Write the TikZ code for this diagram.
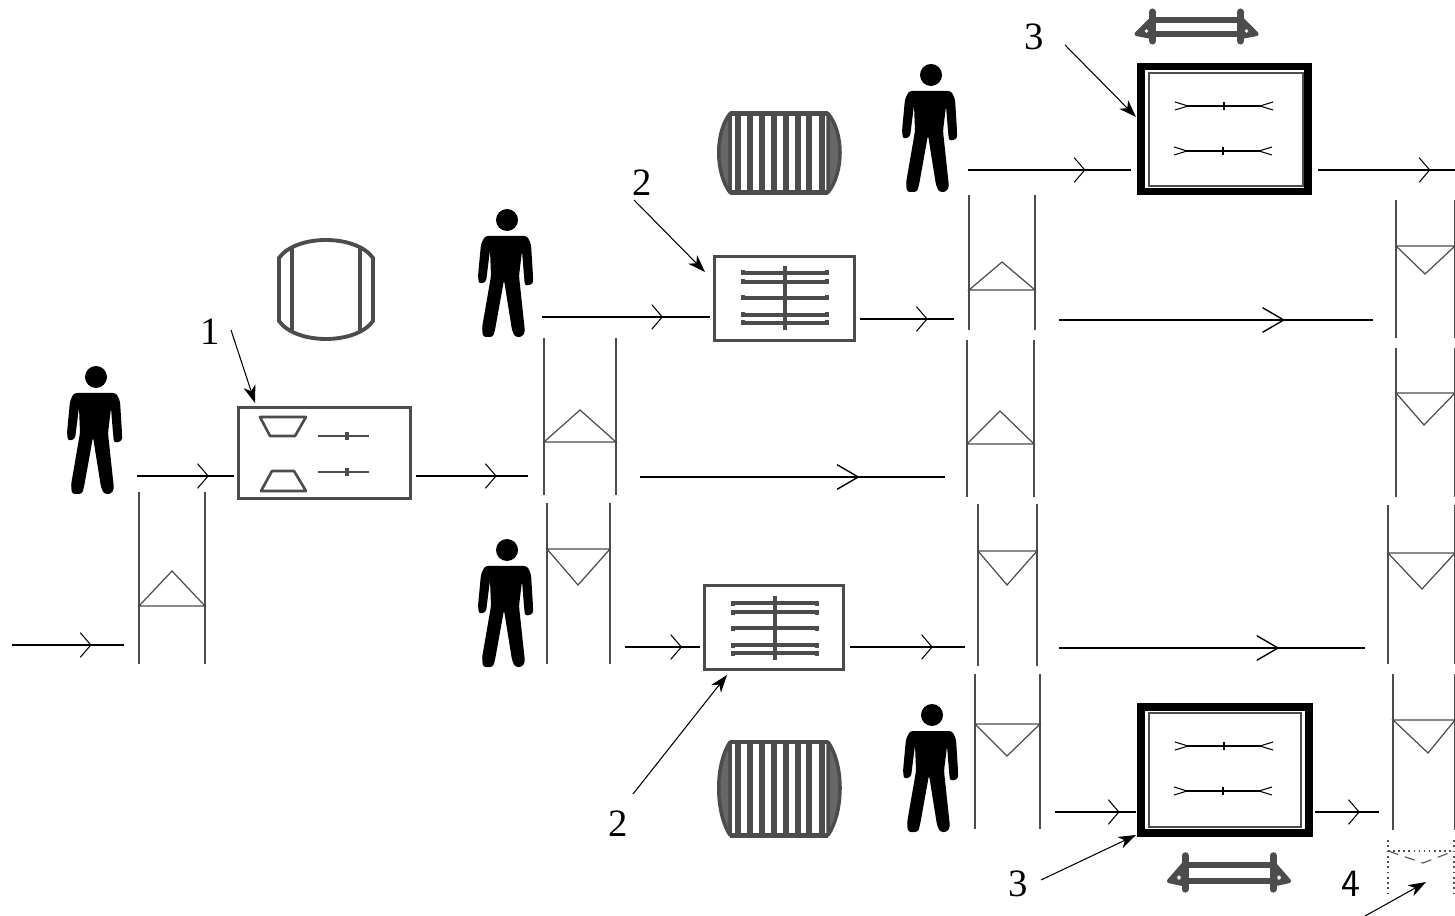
\documentclass[tikz,border=0pt]{standalone}
\usepackage{fontspec}
\usepackage{xcolor}
\usepackage{tikz}
\usetikzlibrary{arrows.meta,decorations.markings}
\setmainfont{Liberation Serif}
\definecolor{inkgray}{gray}{0.3}
\definecolor{thingray}{gray}{0.3}
\tikzset{
    flowline/.style={black, line width=0.5pt, postaction={decorate},
        decoration={markings, mark=at position #1 with {\arrow[line width=0.3pt]{Straight Barb[length=3pt,width=7pt]}}}},
    heavyflow/.style={flowline=#1, line width=0.65pt},
    longflow/.style={black, line width=0.65pt, postaction={decorate},
        decoration={markings, mark=at position #1 with {\arrow[line width=0.4pt]{Straight Barb[length=6pt,width=7pt]}}}},
    machine/.style={draw=inkgray, line width=0.85pt, fill=white, outer sep=1.4pt, inner sep=0pt},
    press/.style={draw=black, line width=2.1pt, fill=white, inner sep=0pt},
    pointer/.style={black, line width=0.3pt, -{Stealth[length=5pt,width=3.5pt,inset=1.5pt]}},
    rod/.style={inkgray, line width=1pt},
    numlabel/.style={font=\fontsize{11}{11}\selectfont, inner sep=0pt},
    pics/person/.style={code={
        \fill[black] (0,0) circle (11);
        \fill[black, rounded corners=0.8pt] (-22,16) -- (20,16) -- (24,24) -- (26,56) -- (26,64) -- (18,66) -- (17,56) -- (15,31)
            -- (12,56) -- (18,112) -- (15,117) -- (8,117) -- (5,110) -- (-3,60) -- (-12,110) -- (-14,117) -- (-24,117) -- (-25,108)
            -- (-16,56) -- (-17,30) -- (-21,62) -- (-28,64) -- (-29,56) -- (-26,24) -- cycle;
    }},
    pics/drum/.style={code={
        \draw[inkgray, line width=1.1pt] (-47,-32) .. controls (-30,-56) and (30,-56) .. (47,-32) -- (47,31)
            .. controls (30,55) and (-30,55) .. (-47,31) -- cycle;
        \draw[inkgray, line width=1.1pt] (-34,-42) -- (-34,40);
        \draw[inkgray, line width=1.1pt] (34,-42) -- (34,40);
    }},
    pics/roller/.style={code={
        \filldraw[inkgray, line width=1pt, line join=round, fill=inkgray!85!white] (-50,-39) .. controls (-65,-20) and (-65,20) .. (-50,40) -- cycle;
        \filldraw[inkgray, line width=1pt, line join=round, fill=inkgray!85!white] (48,-39) .. controls (64,-20) and (64,20) .. (48,40) -- cycle;
        \draw[inkgray, line width=1.4pt] (-50,-39) -- (48,-39);
        \draw[inkgray, line width=1.4pt] (-50,40) -- (48,40);
        \foreach \sx in {-42,-30,-18,-6,6,18,29,42}
            \draw[inkgray, line width=1.7pt] (\sx,-39) -- (\sx,40);
    }},
    pics/rail/.style={code={
        \draw[inkgray, line width=1.6pt] (-44,-7) -- (44,-7);
        \draw[inkgray, line width=1.6pt] (-44,7) -- (44,7);
        \draw[inkgray, line width=2pt, line cap=round] (-44,-15) -- (-44,14);
        \draw[inkgray, line width=2pt, line cap=round] (44,-15) -- (44,14);
        \filldraw[inkgray, line width=1.2pt, line join=round] (-60,7) -- (-44,-9) -- (-44,10) -- cycle;
        \filldraw[inkgray, line width=1.2pt, line join=round] (60,7) -- (44,-9) -- (44,10) -- cycle;
        \fill[white] (-50,4) circle (1.8);
        \fill[white] (50,4) circle (1.8);
    }},
    pics/fivebars/.style={code={
        \foreach \by in {-25,-16,0,17,25} {
            \draw[rod] (-44,\by) -- (44,\by);
            \fill[inkgray] (-44,\by-2.5) rectangle (-40,\by+2.5);
            \fill[inkgray] (40,\by-2.5) rectangle (44,\by+2.5);
        }
        \draw[inkgray, line width=1.1pt] (0,-32) -- (0,32);
    }},
    pics/forkbar/.style={code={
        \draw[black, line width=0.45pt] (-37,0) -- (37,0);
        \draw[black, line width=0.3pt] (-49,-4) -- (-36,0) -- (-49,4);
        \draw[black, line width=0.3pt] (49,-4) -- (36,0) -- (49,4);
        \draw[black, line width=0.5pt] (0,-4) -- (0,4);
    }},
}
\begin{document}
\begin{tikzpicture}[x=0.01cm, y=-0.01cm]
    \useasboundingbox (0,0) rectangle (1455,916);

    \foreach \pname/\px/\py in {one/96/377, two/507/220, three/507/550, four/931/75, five/932/715}
        \pic (person\pname) at (\px,\py) {person};

    \foreach \xa/\xb/\xm/\ya/\yb/\yc/\yd in {
        139/205/172/492/664/606/571,
        544/616/580/338/495/442/410,
        969/1035/1002/195/330/290/262,
        967/1034/1000/340/497/444/411,
        547/610/578/503/664/549/585,
        978/1037/1007/504/666/551/585,
        975/1040/1007/674/829/724/756,
        1396/1455/1425/200/338/246/274,
        1396/1455/1424/348/497/393/425,
        1388/1455/1422/505/664/553/589,
        1393/1455/1428/674/830/720/753} {
        \draw[thingray, line width=0.35pt] (\xa,\ya) -- (\xa,\yb);
        \draw[thingray, line width=0.35pt] (\xb,\ya) -- (\xb,\yb);
        \draw[thingray, line width=0.35pt] (\xa,\yc) -- (\xb,\yc) -- (\xm,\yd) -- cycle;
    }
    \draw[thingray, line width=0.5pt, densely dotted] (1388,840) -- (1388,893);
    \draw[thingray, line width=0.5pt, densely dotted] (1454,840) -- (1454,893);
    \draw[thingray, line width=0.45pt, densely dotted] (1388,851) -- (1454,851);
    \draw[thingray, line width=0.3pt, densely dashed] (1388,851) -- (1423,863) -- (1454,851);

    \node[machine, minimum width=1.71cm, minimum height=0.90cm] (boxone) at (324.5,453) {};
    \node[machine, minimum width=1.39cm, minimum height=0.83cm] (boxtwo) at (784.5,298.5) {};
    \node[machine, minimum width=1.38cm, minimum height=0.83cm] (boxthree) at (774,627.5) {};
    \node[press, outer sep=2.8pt, minimum width=1.67cm, minimum height=1.25cm] (boxfour) at (1224.5,129) {};
    \node[press, outer sep=1.5pt, minimum width=1.68cm, minimum height=1.26cm] (boxfive) at (1225,770) {};

    \draw[inkgray, line width=0.75pt, line join=round] (260,417) -- (306,417) -- (295,436) -- (270,436) -- cycle;
    \draw[inkgray, line width=0.75pt, line join=round] (261,491) -- (306,491) -- (294,471) -- (272,471) -- cycle;
    \foreach \by in {436,472} {
        \draw[inkgray, line width=0.7pt] (318,\by) -- (369,\by);
        \draw[inkgray, line width=1pt] (347,\by-4) -- (347,\by+4);
    }
    \pic at (785,298) {fivebars};
    \pic at (775,628) {fivebars};
    \draw[thingray, line width=0.45pt] (1149,73) rectangle (1303,186);
    \draw[thingray, line width=0.45pt] (1149,713) rectangle (1301,827);
    \pic at (1224,106) {forkbar};
    \pic at (1223,151) {forkbar};
    \pic at (1224,746) {forkbar};
    \pic at (1223,791) {forkbar};

    \pic at (326,290) {drum};
    \pic at (780,152.5) {roller};
    \pic[yscale=1.18] at (780,788) {roller};
    \pic at (1196.5,27) {rail};
    \pic[yscale=1.15] at (1229,873) {rail};

    \foreach \fname/\xa/\xb/\yy/\fpos in {
        a/12/124/645/.71,
        b/416/528/476/.72,
        c/860/954/319/.72,
        d/850/965/647/.72}
        {
        \coordinate (\fname start) at (\xa,\yy);
        \coordinate (\fname end) at (\xb,\yy);
        \draw[flowline=\fpos] (\fname start) -- (\fname end);
    }
    \foreach \fname/\xa/\xb/\yy/\fpos in {
        e/640/945/477/.72,
        f/1059/1373/320/.72,
        g/1059/1365/648/.72}
        {
        \coordinate (\fname start) at (\xa,\yy);
        \coordinate (\fname end) at (\xb,\yy);
        \draw[longflow=\fpos] (\fname start) -- (\fname end);
    }
    \foreach \fname/\xa/\xb/\yy/\fpos in {
        h/1318/1455/170/.82,
        i/1315/1379/812/.7}
        {
        \coordinate (\fname start) at (\xa,\yy);
        \coordinate (\fname end) at (\xb,\yy);
        \draw[heavyflow=\fpos] (\fname start) -- (\fname end);
    }
    \coordinate (jstart) at (137,476);
    \coordinate (kstart) at (542,317);
    \coordinate (lstart) at (625,647);
    \coordinate (mstart) at (968,170);
    \coordinate (nstart) at (1055,812);
    \draw[flowline=.74] (jstart) -- (jstart -| boxone.west);
    \draw[flowline=.72] (kstart) -- (kstart -| boxtwo.west);
    \draw[heavyflow=.76] (lstart) -- (lstart -| boxthree.west);
    \draw[flowline=.72] (mstart) -- (mstart -| boxfour.west);
    \draw[heavyflow=.8] (nstart) -- (nstart -| boxfive.west);

    \foreach \lname/\lx/\ly/\ltxt/\sx/\sy/\ex/\ey in {
        one/210/332/1/231/330/255/403,
        two/642/183/2/634/200/705/272,
        three/618/824/2/633/794/727/675,
        four/1034/37/3/1065/45/1136/117,
        five/1018/884/3/1041/880/1136/835} {
        \node[numlabel] (label\lname) at (\lx,\ly) {\ltxt};
        \coordinate (from\lname) at (\sx,\sy);
        \coordinate (to\lname) at (\ex,\ey);
        \draw[pointer] (from\lname) -- (to\lname);
    }
    \node[numlabel, font=\fontsize{11}{11}\selectfont\sffamily] (labelsix) at (1351,884) {4};
    \coordinate (fromsix) at (1365,916);
    \coordinate (tosix) at (1426,882);
    \draw[pointer] (fromsix) -- (tosix);
\end{tikzpicture}
\end{document}
